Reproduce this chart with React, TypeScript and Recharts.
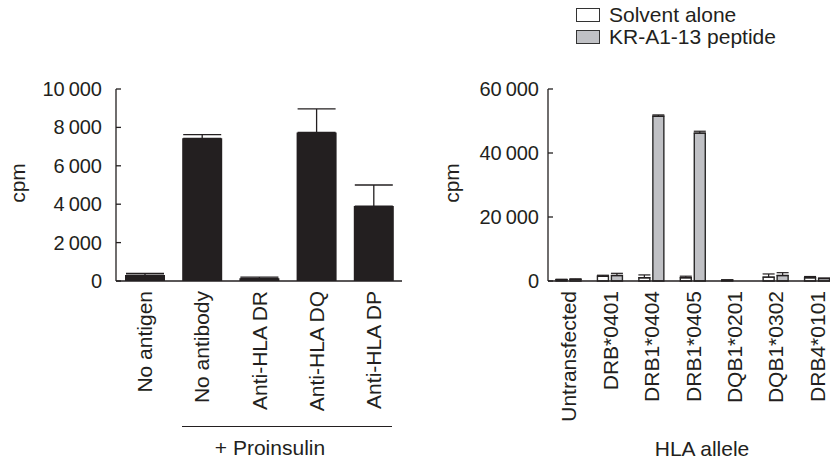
import React from 'react';
import { BarChart, Bar, XAxis, YAxis, ErrorBar } from 'recharts';

const INK = '#231f20';
const FONT = '"Liberation Sans", Arial, Helvetica, sans-serif';

// left panel: anti-HLA blocking
const leftCategories = ['No antigen', 'No antibody', 'Anti-HLA DR', 'Anti-HLA DQ', 'Anti-HLA DP'];
const leftValues = [310, 7430, 140, 7740, 3900];
const leftErrors = [90, 190, 60, 1220, 1100];
const leftTicks = [0, 2000, 4000, 6000, 8000, 10000];

// right panel: HLA alleles
const rightCategories = ['Untransfected', 'DRB*0401', 'DRB1*0404', 'DRB1*0405', 'DQB1*0201', 'DQB1*0302', 'DRB4*0101'];
const solventValues = [400, 1500, 1000, 1000, 300, 1200, 1000];
const solventErrors = [150, 300, 900, 500, 0, 1000, 400];
const peptideValues = [500, 1700, 51500, 46200, 0, 1700, 800];
const peptideErrors = [150, 700, 400, 600, 0, 900, 100];
const rightTicks = [0, 20000, 40000, 60000];

const leftData = leftCategories.map((name, i) => ({
  name,
  value: leftValues[i],
  err: [0, leftErrors[i]],
}));

const rightData = rightCategories.map((name, i) => ({
  name,
  solvent: solventValues[i],
  solventErr: [0, solventErrors[i]],
  peptide: peptideValues[i],
  peptideErr: [0, peptideErrors[i]],
}));

const fmt = (v: number) => {
  if (v === 0) return '0';
  const s = String(v);
  return s.slice(0, s.length - 3) + '\u2009' + s.slice(-3);
};

const YTick = ({ x, y, payload, gap }: any) => (
  <g>
    <line x1={x} x2={x + 5} y1={y} y2={y} stroke={INK} strokeWidth={1.3} />
    <text x={x - gap} y={y} dy="0.35em" textAnchor="end" fill={INK} fontSize={20} fontFamily={FONT}>
      {fmt(payload.value)}
    </text>
  </g>
);

const XTick = ({ x, y, payload }: any) => (
  <g transform={`translate(${x},${y + 10})`}>
    <text transform="rotate(-90)" textAnchor="end" dy="0.36em" fill={INK} fontSize={21} fontFamily={FONT}>
      {payload.value}
    </text>
  </g>
);

const rotated = (left: number, top: number, text: string) => (
  <div
    style={{
      position: 'absolute',
      left,
      top,
      transform: 'translate(-50%, -50%) rotate(-90deg)',
      fontSize: 21,
      fontFamily: FONT,
      color: INK,
      whiteSpace: 'nowrap',
    }}
  >
    {text}
  </div>
);

export default function App() {
  return (
    <div
      style={{
        position: 'absolute',
        left: 0,
        top: 0,
        width: 830,
        height: 461,
        overflow: 'hidden',
        background: '#fff',
        fontFamily: FONT,
        color: INK,
      }}
    >
      <div style={{ position: 'absolute', left: 0, top: 0 }}>
        <BarChart width={410} height={461} data={leftData} margin={{ top: 89, right: 8, left: 0, bottom: 0 }}>
          <XAxis
            dataKey="name"
            height={180}
            interval={0}
            tickSize={0}
            tickMargin={0}
            tick={<XTick />}
            axisLine={{ stroke: INK, strokeWidth: 1.3 }}
          />
          <YAxis
            width={116}
            domain={[0, 10000]}
            ticks={leftTicks}
            interval={0}
            tickSize={0}
            tickMargin={0}
            tick={<YTick gap={14} />}
            axisLine={{ stroke: INK, strokeWidth: 1.3 }}
          />
          <Bar dataKey="value" fill={INK} barSize={40} isAnimationActive={false}>
            <ErrorBar dataKey="err" width={19} stroke={INK} strokeWidth={1.3} direction="y" />
          </Bar>
        </BarChart>
      </div>

      <div style={{ position: 'absolute', left: 420, top: 0 }}>
        <BarChart
          width={418}
          height={461}
          data={rightData}
          barGap={3}
          margin={{ top: 89, right: 0, left: 0, bottom: 0 }}
        >
          <XAxis
            dataKey="name"
            height={180}
            interval={0}
            tickSize={0}
            tickMargin={0}
            tick={<XTick />}
            axisLine={{ stroke: INK, strokeWidth: 1.3 }}
          />
          <YAxis
            width={128}
            domain={[0, 60000]}
            ticks={rightTicks}
            interval={0}
            tickSize={0}
            tickMargin={0}
            tick={<YTick gap={9} />}
            axisLine={{ stroke: INK, strokeWidth: 1.3 }}
          />
          <Bar dataKey="solvent" fill="#ffffff" stroke="#2a2a2a" strokeWidth={1.4} barSize={11} isAnimationActive={false}>
            <ErrorBar dataKey="solventErr" width={6} stroke={INK} strokeWidth={1.2} direction="y" />
          </Bar>
          <Bar dataKey="peptide" fill="#c0c1c5" stroke="#2a2a2a" strokeWidth={1.4} barSize={11} isAnimationActive={false}>
            <ErrorBar dataKey="peptideErr" width={6} stroke={INK} strokeWidth={1.2} direction="y" />
          </Bar>
        </BarChart>
      </div>

      {rotated(18, 183, 'cpm')}
      {rotated(452, 183, 'cpm')}

      <div style={{ position: 'absolute', left: 182, top: 426, width: 210, borderTop: `1.3px solid ${INK}` }} />
      <div style={{ position: 'absolute', left: 270, top: 448, transform: 'translate(-50%, -50%)', fontSize: 21, whiteSpace: 'nowrap' }}>
        + Proinsulin
      </div>
      <div style={{ position: 'absolute', left: 702, top: 449, transform: 'translate(-50%, -50%)', fontSize: 21, whiteSpace: 'nowrap' }}>
        HLA allele
      </div>

      <div style={{ position: 'absolute', left: 576, top: 4, fontSize: 21, lineHeight: '22px' }}>
        <div style={{ display: 'flex', alignItems: 'center', height: 22 }}>
          <span style={{ width: 22, height: 12, border: '1.2px solid #333', background: '#fff', marginRight: 9 }} />
          Solvent alone
        </div>
        <div style={{ display: 'flex', alignItems: 'center', height: 22 }}>
          <span style={{ width: 22, height: 12, border: '1.2px solid #333', background: '#c0c1c5', marginRight: 9 }} />
          KR-A1-13 peptide
        </div>
      </div>
    </div>
  );
}
